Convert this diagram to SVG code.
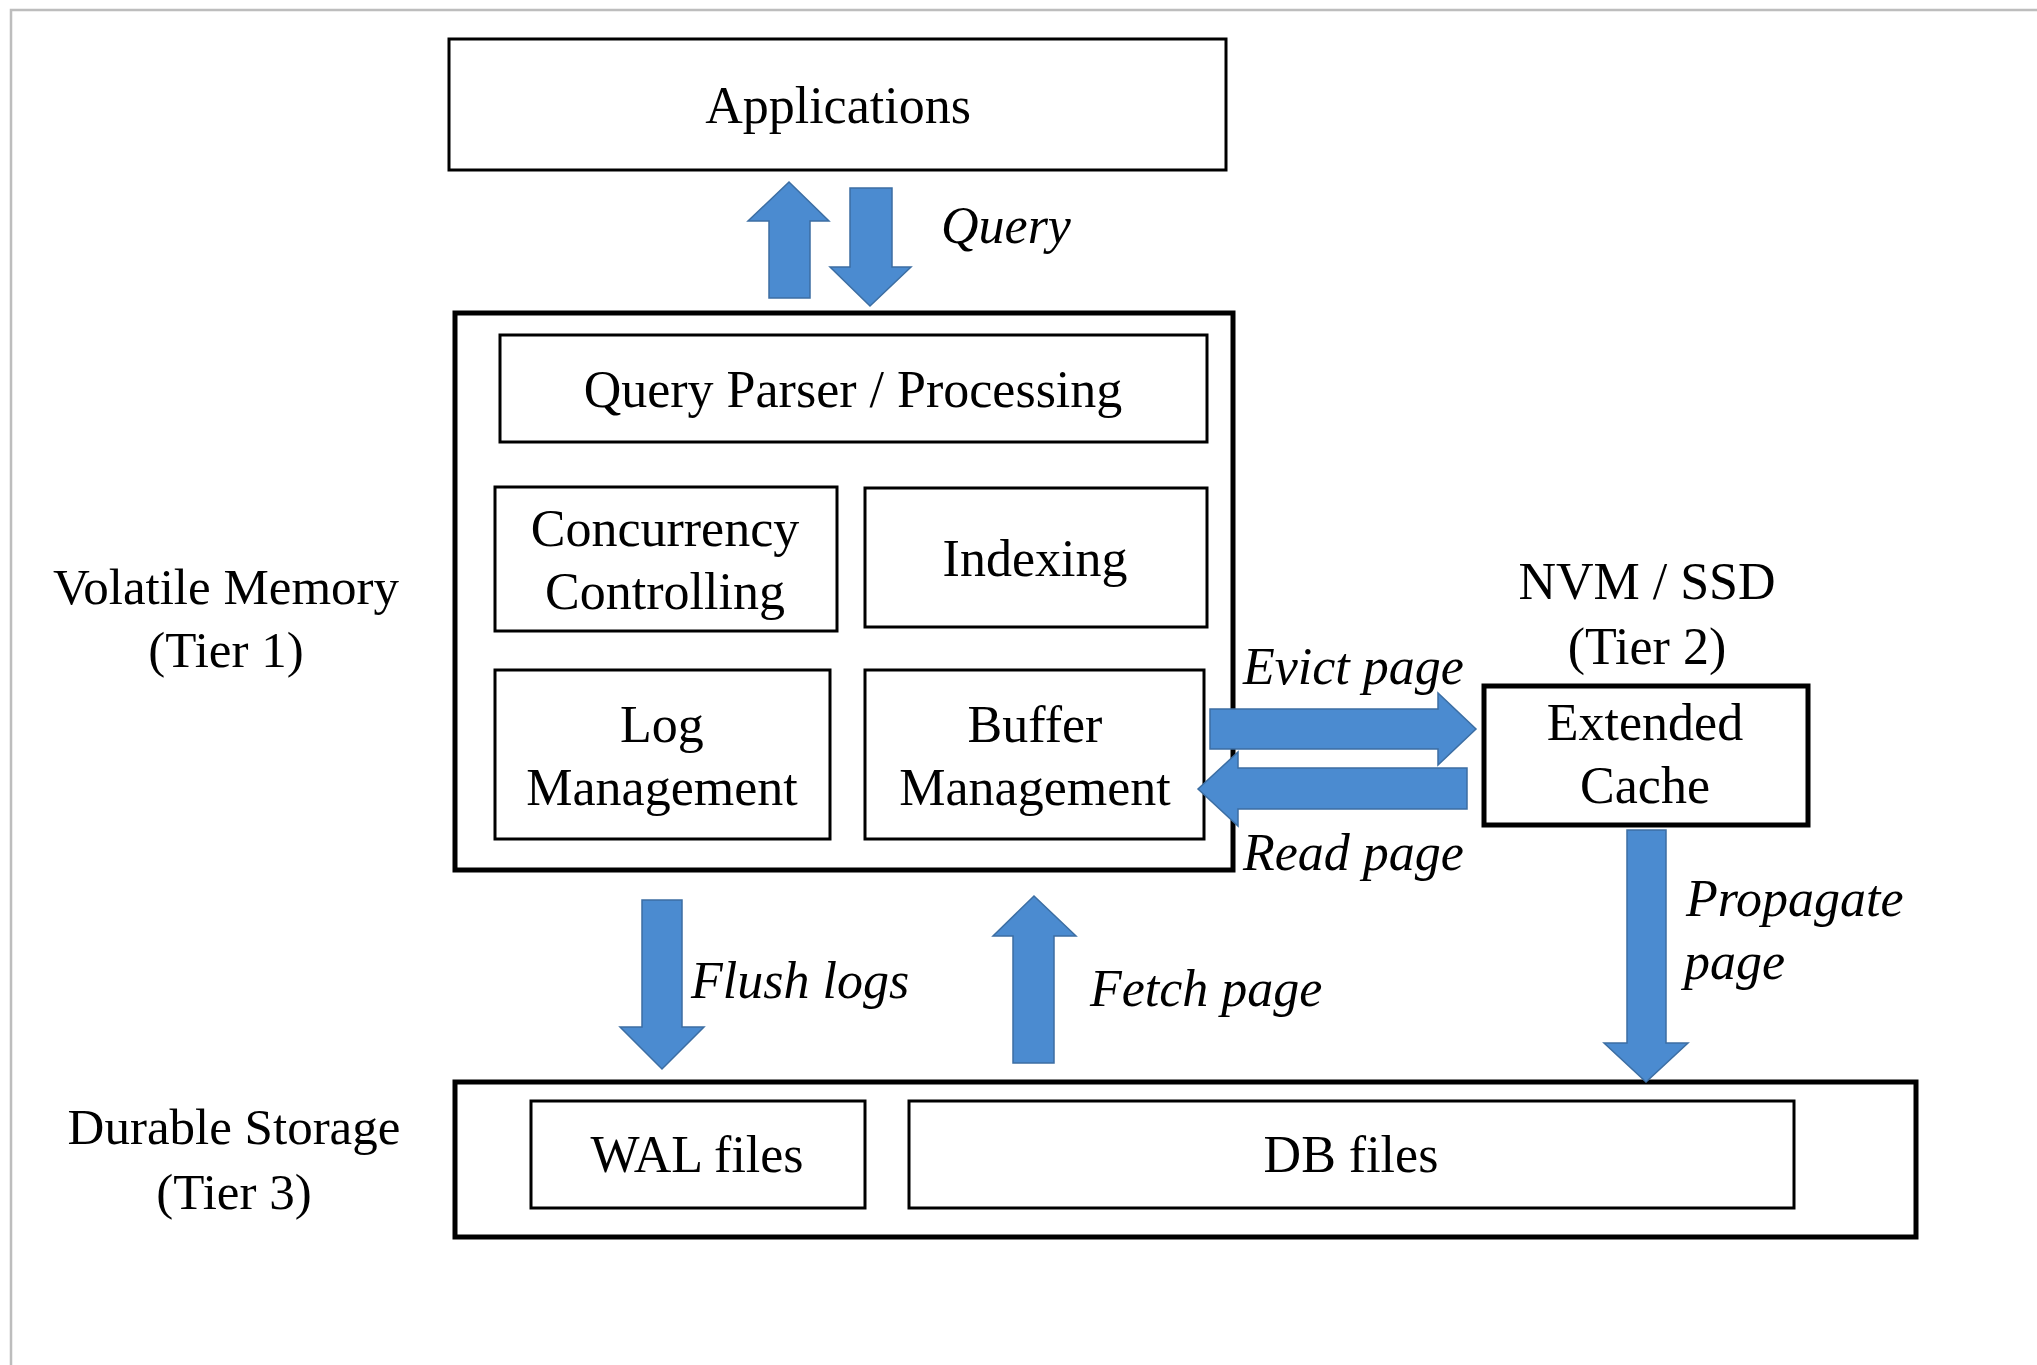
<svg xmlns="http://www.w3.org/2000/svg" width="2037" height="1365" viewBox="0 0 2037 1365">
<style>
.box{fill:#ffffff;stroke:#000000;stroke-width:3}
.thick{fill:#ffffff;stroke:#000000;stroke-width:5}
.t{font-family:"Liberation Serif","Times New Roman",serif;font-size:52px;fill:#000000;text-anchor:middle}
.lbl{font-family:"Liberation Serif","Times New Roman",serif;font-size:52px;font-style:italic;fill:#000000}
.side{font-family:"Liberation Serif","Times New Roman",serif;font-size:51px;fill:#000000;text-anchor:middle}
.arrow{fill:#4b8bd0;stroke:#3c6ea3;stroke-width:1.5;stroke-linejoin:miter}
.frame{fill:none;stroke:#bdbdbd;stroke-width:2.5}
</style>
<rect x="0" y="0" width="2037" height="1365" fill="#ffffff"/>
<path class="frame" d="M11,1365 L11,10 L2037,10"/>

<g id="applications">
<rect class="box" x="449" y="39" width="777" height="131"/>
<text class="t" x="838" y="123">Applications</text>
</g>

<g id="volatile-memory">
<rect class="thick" x="455" y="313" width="778" height="557"/>
</g>
<g id="query-parser">
<rect class="box" x="500" y="335" width="707" height="107"/>
<text class="t" x="853" y="407">Query Parser / Processing</text>
</g>
<g id="concurrency">
<rect class="box" x="495" y="487" width="342" height="144"/>
<text class="t" x="665" y="546">Concurrency</text>
<text class="t" x="665" y="609">Controlling</text>
</g>
<g id="indexing">
<rect class="box" x="865" y="488" width="342" height="139"/>
<text class="t" x="1035" y="576">Indexing</text>
</g>
<g id="log-management">
<rect class="box" x="495" y="670" width="335" height="169"/>
<text class="t" x="662" y="742">Log</text>
<text class="t" x="662" y="805">Management</text>
</g>
<g id="buffer-management">
<rect class="box" x="865" y="670" width="339" height="169"/>
<text class="t" x="1035" y="742">Buffer</text>
<text class="t" x="1035" y="805">Management</text>
</g>

<g id="tier1-label">
<text class="side" x="226" y="604">Volatile Memory</text>
<text class="side" x="226" y="667">(Tier 1)</text>
</g>

<g id="extended-cache">
<text class="t" x="1647" y="599">NVM / SSD</text>
<text class="t" x="1647" y="664">(Tier 2)</text>
<rect class="thick" x="1484" y="686" width="324" height="139"/>
<text class="t" x="1645" y="740">Extended</text>
<text class="t" x="1645" y="803">Cache</text>
</g>

<g id="durable-storage">
<rect class="thick" x="455" y="1082" width="1461" height="155"/>
</g>
<g id="wal-files">
<rect class="box" x="531" y="1101" width="334" height="107"/>
<text class="t" x="697" y="1172">WAL files</text>
</g>
<g id="db-files">
<rect class="box" x="909" y="1101" width="885" height="107"/>
<text class="t" x="1351" y="1172">DB files</text>
</g>
<g id="tier3-label">
<text class="side" x="234" y="1144">Durable Storage</text>
<text class="side" x="234" y="1209">(Tier 3)</text>
</g>

<g id="connectors">
<path class="arrow" d="M769,298 L769,221 L748,221 L789,182 L829,221 L810,221 L810,298 Z"/>
<path class="arrow" d="M850,188 L892,188 L892,267 L911,267 L870,306 L830,267 L850,267 Z"/>
<text class="lbl" x="941" y="243">Query</text>

<path class="arrow" d="M1210,709 L1438,709 L1438,693 L1476,729 L1438,765 L1438,749 L1210,749 Z"/>
<text class="lbl" x="1243" y="684">Evict page</text>
<path class="arrow" d="M1467,768 L1238,768 L1238,752 L1198,789 L1238,826 L1238,809 L1467,809 Z"/>
<text class="lbl" x="1243" y="870">Read page</text>

<path class="arrow" d="M1627,830 L1666,830 L1666,1043 L1688,1043 L1646,1082 L1604,1043 L1627,1043 Z"/>
<text class="lbl" x="1686" y="916">Propagate</text>
<text class="lbl" x="1684" y="979">page</text>

<path class="arrow" d="M642,900 L682,900 L682,1027 L704,1027 L662,1069 L620,1027 L642,1027 Z"/>
<text class="lbl" x="691" y="998">Flush logs</text>

<path class="arrow" d="M1013,1063 L1013,936 L993,936 L1034,896 L1076,936 L1054,936 L1054,1063 Z"/>
<text class="lbl" x="1090" y="1006">Fetch page</text>
</g>
</svg>
